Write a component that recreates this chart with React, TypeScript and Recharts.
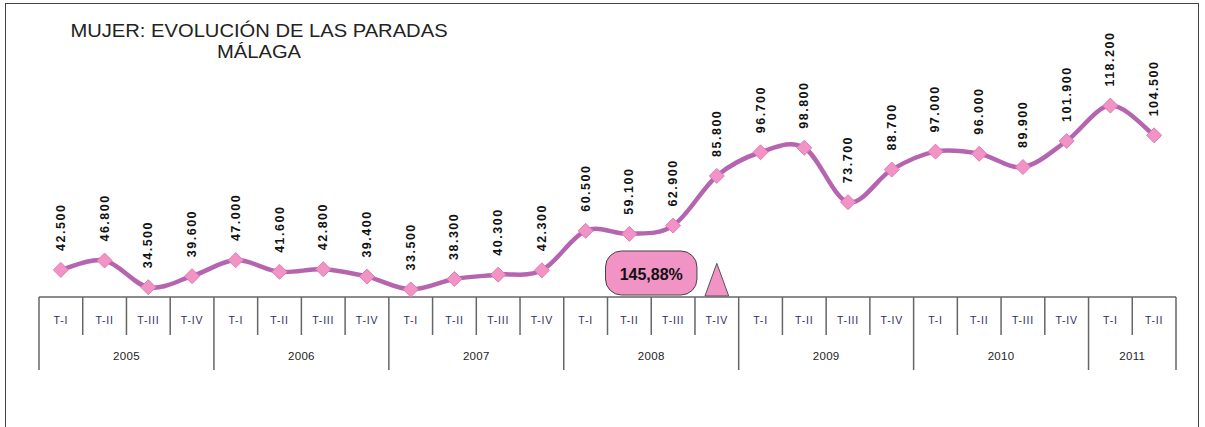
import React from 'react';
import { LineChart, Line, XAxis, YAxis, ReferenceArea, Label } from 'recharts';

const quarters = ['T-I','T-II','T-III','T-IV','T-I','T-II','T-III','T-IV','T-I','T-II','T-III','T-IV','T-I','T-II','T-III','T-IV','T-I','T-II','T-III','T-IV','T-I','T-II','T-III','T-IV','T-I','T-II'];
const quarterYears = ['2005','2005','2005','2005','2006','2006','2006','2006','2007','2007','2007','2007','2008','2008','2008','2008','2009','2009','2009','2009','2010','2010','2010','2010','2011','2011'];
const values = [42500,46800,34500,39600,47000,41600,42800,39400,33500,38300,40300,42300,60500,59100,62900,85800,96700,98800,73700,88700,97000,96000,89900,101900,118200,104500];
const annotationText = '145,88%';
const titleLines = ['MUJER: EVOLUCIÓN DE LAS PARADAS', 'MÁLAGA'];

const data = values.map((v, i) => ({ idx: i, q: quarters[i], year: quarterYears[i], value: v / 1000, raw: v }));

const W = 1205;
const H = 427;
const MARGIN = { top: 80, right: 29, bottom: 129, left: 39 };
const AXIS_Y = H - MARGIN.bottom - 1;
const FONT = '"Liberation Sans", Arial, sans-serif';

function catmullRom(context: any) {
  let pts: number[][] = [];
  return {
    areaStart() {},
    areaEnd() {},
    lineStart() { pts = []; },
    point(x: number, y: number) { pts.push([+x, +y]); },
    lineEnd() {
      const n = pts.length;
      if (!n) return;
      context.moveTo(pts[0][0], pts[0][1]);
      for (let i = 0; i < n - 1; i++) {
        const p0 = pts[i - 1] || pts[i];
        const p1 = pts[i];
        const p2 = pts[i + 1];
        const p3 = pts[i + 2] || p2;
        context.bezierCurveTo(
          p1[0] + (p2[0] - p0[0]) / 6, p1[1] + (p2[1] - p0[1]) / 6,
          p2[0] - (p3[0] - p1[0]) / 6, p2[1] - (p3[1] - p1[1]) / 6,
          p2[0], p2[1]
        );
      }
    },
  };
}

const fmt = (v: number) => `${Math.floor(v / 1000)}.${String(v % 1000).padStart(3, '0')}`;

const Diamond = (props: any) => {
  const { cx, cy } = props;
  if (cx == null || cy == null) return null;
  const r = 7.5;
  return (
    <polygon
      points={`${cx},${cy - r} ${cx + r},${cy} ${cx},${cy + r} ${cx - r},${cy}`}
      fill="#f293c6"
      stroke="#e07cb6"
      strokeWidth={1}
    />
  );
};

const CategoryTick = (props: any) => {
  const { x, payload } = props;
  const i = payload.index ?? payload.value;
  const half = payload.offset || 21.87;
  const yr = quarterYears[i];
  const isYearEnd = i === quarterYears.length - 1 || quarterYears[i + 1] !== yr;
  const isYearStart = i === 0 || quarterYears[i - 1] !== yr;
  const count = quarterYears.filter((y) => y === yr).length;
  const yx = x + (count - 1) * half;
  return (
    <g>
      <text x={x} y={AXIS_Y + 27} textAnchor="middle" fontFamily={FONT} fontSize={10.5} letterSpacing={0.8} fill="#2e2e5c">
        {quarters[i]}
      </text>
      <line x1={x + half} x2={x + half} y1={AXIS_Y} y2={isYearEnd ? AXIS_Y + 73 : AXIS_Y + 38} stroke="#666" strokeWidth={1.5} />
      {i === 0 && (
        <line x1={x - half} x2={x - half} y1={AXIS_Y} y2={AXIS_Y + 73} stroke="#666" strokeWidth={1.5} />
      )}
      {isYearStart && (
        <text x={yx} y={AXIS_Y + 63} textAnchor="middle" fontFamily={FONT} fontSize={11.5} letterSpacing={0.3} fill="#222">
          {yr}
        </text>
      )}
    </g>
  );
};

const RoundBox = (props: any) => {
  const { x, y, width, height } = props;
  const h = height - 2;
  return <rect x={x - 2} y={y} width={width + 4} height={h} rx={16} ry={16} fill="#f293c6" stroke="#444" strokeWidth={1} />;
};

const Triangle = (props: any) => {
  const { x, y, width, height } = props;
  const bottom = y + height - 1;
  return (
    <polygon
      points={`${x + width / 2},${y} ${x + 10},${bottom} ${x + width - 10},${bottom}`}
      fill="#f293c6"
      stroke="#555"
      strokeWidth={1}
    />
  );
};

export default function App() {
  return (
    <div style={{ position: 'absolute', left: 0, top: 0, width: W, height: H, background: '#fff', overflow: 'hidden' }}>
      <div style={{ position: 'absolute', left: 5, top: 3, width: 1194, height: 440, border: '1.5px solid #444', boxSizing: 'border-box' }} />
      <div style={{ position: 'absolute', left: 0, top: 0, width: 518, textAlign: 'center', fontFamily: FONT, fontSize: 18, color: '#222', lineHeight: '21px', paddingTop: 21, transform: 'scaleX(1.12)', transformOrigin: '259px 0' }}>
        <div>{titleLines[0]}</div>
        <div>{titleLines[1]}</div>
      </div>
      <div style={{ position: 'absolute', left: 0, top: 0 }}>
        <LineChart width={W} height={H} data={data} margin={MARGIN}>
          <XAxis
            dataKey="idx"
            type="category"
            scale="band"
            interval={0}
            height={1}
            tickLine={false}
            axisLine={{ stroke: '#666', strokeWidth: 1.5 }}
            tick={<CategoryTick />}
          />
          <YAxis hide type="number" domain={[30, 130]} allowDataOverflow />
          <ReferenceArea x1={13} x2={14} y1={30} y2={51.2} shape={<RoundBox />} ifOverflow="visible">
            <Label value={annotationText} position="center" fontFamily={FONT} fontWeight="bold" fontSize={16} fill="#111" />
          </ReferenceArea>
          <ReferenceArea x1={15} x2={15} y1={30} y2={45.5} shape={<Triangle />} ifOverflow="visible" />
          <Line
            type={catmullRom as any}
            dataKey="value"
            stroke="#b565b0"
            strokeWidth={4.5}
            dot={<Diamond />}
            activeDot={false}
            isAnimationActive={false}
            label={(p: any) => {
              const { x, y, index } = p;
              const lx = x;
              const ly = y - 19;
              return (
                <text
                  key={`lbl-${index}`}
                  x={lx}
                  y={ly}
                  style={{ transform: 'rotate(-90deg)', transformOrigin: `${lx}px ${ly}px`, transformBox: 'view-box' }}
                  textAnchor="start"
                  dominantBaseline="central"
                  fontFamily={FONT}
                  fontWeight="bold"
                  fontSize={12.5}
                  letterSpacing={1.5}
                  fill="#111"
                >
                  {fmt(values[index])}
                </text>
              );
            }}
          />
        </LineChart>
      </div>
    </div>
  );
}
